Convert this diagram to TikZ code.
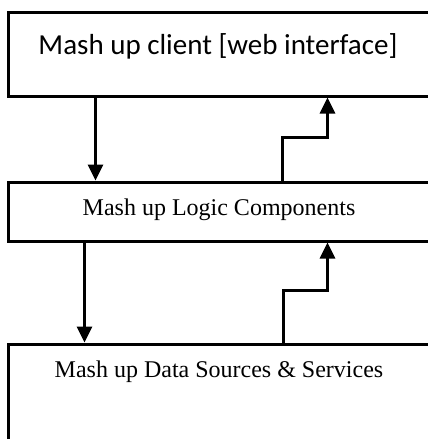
\documentclass[tikz,border=0pt]{standalone}
\usepackage{fontspec}
\setmainfont{Liberation Serif}
\newfontfamily\clientfont{Carlito}
\usetikzlibrary{calc, positioning, arrows.meta}

\begin{document}
\begin{tikzpicture}[x=1pt, y=-1pt,
	caja/.style={draw, line width=3pt, rectangle, minimum width=422pt, inner sep=0pt},
	flecha/.style={line width=3pt, arrows={-Triangle[length=16pt, width=15pt]}}]
	\useasboundingbox (0,0) rectangle (428,439);
	\clip (0,0) rectangle (428,439);
	
	%Cajas
	\node[caja, minimum height=84pt] (cliente) at (219,54) {};
	\node[caja, minimum height=59pt] (logica) at (219,211.5) {};
	\node[caja, minimum height=116pt] (datos) at (219,402) {};
	
	%Textos
	\node[anchor=base, inner sep=0pt, font=\clientfont\fontsize{29}{34}\selectfont] (tcliente) at (218,54) {Mash up client [web interface]};
	\node[anchor=base, inner sep=0pt, font=\fontsize{24}{28}\selectfont] (tlogica) at (219,215) {Mash up Logic Components};
	\node[anchor=base, inner sep=0pt, font=\fontsize{24}{28}\selectfont] (tdatos) at (219,377) {Mash up Data Sources \& Services};
	
	%Flechas
	\draw[flecha] ([xshift=89pt]cliente.south west) -- ([xshift=89pt]logica.north west);
	\draw[flecha] ([xshift=276pt]logica.north west) -- ++(0,-43) -| ([xshift=321pt]cliente.south west);
	\draw[flecha] ([xshift=78pt]logica.south west) -- ([xshift=78pt]datos.north west);
	\draw[flecha] ([xshift=277pt]datos.north west) -- ++(0,-52) -| ([xshift=321pt]logica.south west);
\end{tikzpicture}
\end{document}
